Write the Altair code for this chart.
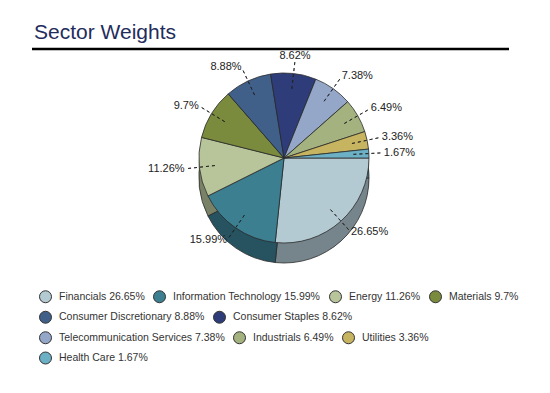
import math
import altair as alt
import pandas as pd

# ---- data ----
title_text = "Sector Weights"
names = ["Financials", "Information Technology", "Energy", "Materials",
         "Consumer Discretionary", "Consumer Staples", "Telecommunication Services",
         "Industrials", "Utilities", "Health Care"]
values = [26.65, 15.99, 11.26, 9.7, 8.88, 8.62, 7.38, 6.49, 3.36, 1.67]

# ---- styles ----
colors = ["#b4cad3", "#3b7f91", "#b8c59b", "#7a8b3d", "#40608a",
          "#2e3d7a", "#95a7c8", "#a4b27f", "#c7b460", "#6bb0c5"]
legend_rows = [[0, 1, 2, 3], [4, 5], [6, 7, 8], [9]]

def darken(h, f=0.66):
    h = h.lstrip("#")
    r, g, b = (int(h[i:i + 2], 16) for i in (0, 2, 4))
    return "#%02x%02x%02x" % (int(r * f), int(g * f), int(b * f))

dark_colors = [darken(c) for c in colors]

FONT = "Liberation Sans"
W, H = 534, 377
cx, cy = 276, 150      # pie centre in plot coords
R = 85
DEPTH = 20

# ---- table ----
total = sum(values)
cum = 0.0
mids, sides = [], []
for v in values:
    mid = cum + v / 2
    cum += v
    mids.append(mid)
    ang = math.pi / 2 + 2 * math.pi * mid / total
    s = math.sin(ang)
    c = -math.cos(ang)
    if s > 0.3:
        sides.append("right")
    elif s < -0.3:
        sides.append("left")
    else:
        sides.append("top" if c < 0 else "bottom")

df = pd.DataFrame({
    "name": names,
    "value": values,
    "idx": list(range(len(names))),
    "mid": mids,
    "side": sides,
    "pct": [f"{v}%" for v in values],
    "label": [f"{n} {v}%" for n, v in zip(names, values)],
})

th_scale = alt.Scale(domain=[0, total], range=[math.pi / 2, math.pi / 2 + 2 * math.pi])


def pie_layer(yoff, fills, stroke):
    kw = dict(outerRadius=R)
    if stroke:
        kw.update(stroke="#2b2b2b", strokeWidth=0.8)
    else:
        kw.update(strokeWidth=0)
    return alt.Chart(df).mark_arc(**kw).encode(
        theta=alt.Theta("value:Q", stack=True, scale=th_scale),
        order=alt.Order("idx:Q"),
        color=alt.Color("name:N", scale=alt.Scale(domain=names, range=fills), legend=None),
        x=alt.value(cx),
        y=alt.value(cy + yoff),
    )


layers = []
# side (depth) of the pie
for k in range(2, DEPTH + 1, 2):
    layers.append(pie_layer(k, dark_colors, stroke=(k == DEPTH)))
# top face
layers.append(pie_layer(0, colors, stroke=True))

# leader lines
leaders = alt.Chart(df).mark_arc(
    innerRadius=R - 17, outerRadius=R + 11.5, stroke="#222", strokeWidth=0.8,
    strokeDash=[3, 3], fillOpacity=0
).encode(
    theta=alt.Theta("mid:Q", scale=th_scale, stack=None),
    theta2=alt.Theta2("mid:Q"),
    x=alt.value(cx), y=alt.value(cy),
)
layers.append(leaders)

# percentage labels
for side, align, baseline, rad in [("right", "left", "middle", R + 15),
                                   ("left", "right", "middle", R + 15),
                                   ("top", "center", "bottom", R + 13),
                                   ("bottom", "center", "top", R + 13)]:
    layers.append(
        alt.Chart(df).transform_filter(alt.datum.side == side).mark_text(
            radius=rad, align=align, baseline=baseline, fontSize=11, font=FONT, color="#222"
        ).encode(
            theta=alt.Theta("mid:Q", scale=th_scale, stack=None),
            text="pct:N",
            x=alt.value(cx), y=alt.value(cy),
        )
    )

# title and rule
layers.append(
    alt.Chart(pd.DataFrame({"t": [title_text]})).mark_text(
        align="left", baseline="alphabetic", fontSize=21, font=FONT, color="#1f2d5c"
    ).encode(text="t:N", x=alt.value(26), y=alt.value(31))
)
layers.append(
    alt.Chart(pd.DataFrame({"t": [title_text]})).mark_rule(color="#000", strokeWidth=2.5).encode(
        x=alt.value(24), x2=alt.value(501), y=alt.value(41)
    )
)

# legends (one per row)
row_tops = [282, 302.5, 323, 343.5]
for row, top in zip(legend_rows, row_tops):
    sub = df.iloc[row]
    layers.append(
        alt.Chart(sub).mark_point(filled=True, opacity=0, shape="circle",
                                  stroke="#333", strokeWidth=1).encode(
            color=alt.Color(
                "label:N",
                scale=alt.Scale(domain=list(sub["label"]), range=[colors[i] for i in row]),
                legend=alt.Legend(
                    orient="none", direction="horizontal", legendX=31, legendY=top,
                    title=None, symbolType="circle", symbolSize=144,
                    symbolOpacity=1, symbolStrokeColor="#333", symbolStrokeWidth=1,
                    labelFont=FONT, labelFontSize=10.5, labelColor="#333",
                    labelOffset=7, columnPadding=6, padding=0, labelLimit=0,
                ),
            ),
            x=alt.value(cx), y=alt.value(cy),
        )
    )

chart = alt.layer(*layers).resolve_scale(color="independent").properties(
    width=W, height=H, autosize="none", padding=0
).configure_view(stroke=None)

chart.save("out.html", embed_options={"renderer": "svg", "actions": False})
